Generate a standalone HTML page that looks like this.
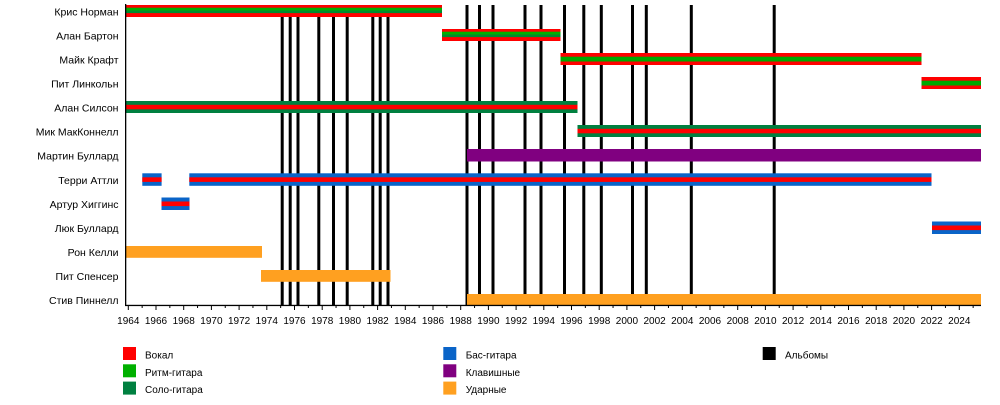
<!DOCTYPE html>
<html><head><meta charset="utf-8"><style>
html,body{margin:0;padding:0;background:#fff;}
svg{display:block;}
text{font-family:"Liberation Sans","DejaVu Sans",sans-serif;fill:#000;}
</style></head><body>
<svg width="1000" height="405" viewBox="0 0 1000 405" xmlns="http://www.w3.org/2000/svg">
<!-- album lines -->
<g fill="#000">
<rect x="280.7" y="5" width="3" height="300"/>
<rect x="288.7" y="5" width="3" height="300"/>
<rect x="296.5" y="5" width="3" height="300"/>
<rect x="317.3" y="5" width="3" height="300"/>
<rect x="332" y="5" width="3" height="300"/>
<rect x="345.7" y="5" width="3" height="300"/>
<rect x="371.3" y="5" width="3" height="300"/>
<rect x="378.7" y="5" width="3" height="300"/>
<rect x="386.5" y="5" width="3" height="300"/>
<rect x="465.5" y="5" width="3" height="300"/>
<rect x="478" y="5" width="3" height="300"/>
<rect x="491.5" y="5" width="3" height="300"/>
<rect x="523.5" y="5" width="3" height="300"/>
<rect x="539.5" y="5" width="3" height="300"/>
<rect x="563" y="5" width="3" height="300"/>
<rect x="582.3" y="5" width="3" height="300"/>
<rect x="599.8" y="5" width="3" height="300"/>
<rect x="631" y="5" width="3" height="300"/>
<rect x="644.8" y="5" width="3" height="300"/>
<rect x="689.8" y="5" width="3" height="300"/>
<rect x="772.7" y="5" width="3" height="300"/>
</g>
<!-- bars -->
<!-- Norman -->
<rect x="126" y="5" width="316" height="12" fill="#ff0000"/>
<rect x="126" y="7.7" width="316" height="2.8" fill="#00b000"/>
<rect x="126" y="10.5" width="316" height="2.6" fill="#008a30"/>
<!-- Barton -->
<rect x="442" y="29" width="118.5" height="12" fill="#ff0000"/>
<rect x="442" y="31.7" width="118.5" height="2.8" fill="#00b000"/>
<rect x="442" y="34.5" width="118.5" height="2.6" fill="#008a30"/>
<!-- Kraft -->
<rect x="560.5" y="53" width="361" height="12" fill="#ff0000"/>
<rect x="560.5" y="56.7" width="361" height="4.8" fill="#00a800"/>
<!-- Lincoln -->
<rect x="921.5" y="77" width="59.5" height="12" fill="#ff0000"/>
<rect x="921.5" y="80.7" width="59.5" height="4.8" fill="#00a800"/>
<!-- Silson -->
<rect x="126" y="101" width="451.5" height="12" fill="#008040"/>
<rect x="126" y="104.8" width="451.5" height="4.5" fill="#ff0000"/>
<!-- McConnell -->
<rect x="577.5" y="125" width="403.5" height="12" fill="#008040"/>
<rect x="577.5" y="128.8" width="403.5" height="4.5" fill="#ff0000"/>
<!-- M Bullard -->
<rect x="467" y="149" width="514" height="12.5" fill="#800080"/>
<!-- Uttley -->
<rect x="142.3" y="173.3" width="19.3" height="12.5" fill="#0a64c8"/>
<rect x="142.3" y="177.3" width="19.3" height="4.6" fill="#ff0000"/>
<rect x="189.3" y="173.3" width="742.2" height="12.5" fill="#0a64c8"/>
<rect x="189.3" y="177.3" width="742.2" height="4.6" fill="#ff0000"/>
<!-- Higgins -->
<rect x="161.5" y="197.5" width="28" height="12.5" fill="#0a64c8"/>
<rect x="161.5" y="201.5" width="28" height="4.6" fill="#ff0000"/>
<!-- Luke Bullard -->
<rect x="932" y="221.5" width="49" height="12.5" fill="#0a64c8"/>
<rect x="932" y="225.5" width="49" height="4.6" fill="#ff0000"/>
<!-- Kelly -->
<rect x="126" y="246" width="136" height="11.8" fill="#ffa020"/>
<!-- Spencer -->
<rect x="261" y="270" width="129.5" height="11.8" fill="#ffa020"/>
<!-- Pinnell -->
<rect x="467" y="294" width="514" height="11.5" fill="#ffa020"/>

<!-- axes -->
<rect x="125" y="4" width="1.3" height="302" fill="#000"/>
<rect x="125" y="304.8" width="856" height="1.3" fill="#000"/>
<g stroke="#000" stroke-width="1" id="ticks">
<path d="M128.3 305V310 M142.15 305V308 M156 305V310 M169.85 305V308 M183.7 305V310 M197.55 305V308 M211.4 305V310 M225.25 305V308 M239.1 305V310 M252.95 305V308 M266.8 305V310 M280.65 305V308 M294.5 305V310 M308.35 305V308 M322.2 305V310 M336.05 305V308 M349.9 305V310 M363.75 305V308 M377.6 305V310 M391.45 305V308 M405.3 305V310 M419.15 305V308 M433 305V310 M446.85 305V308 M460.7 305V310 M474.55 305V308 M488.4 305V310 M502.25 305V308 M516.1 305V310 M529.95 305V308 M543.8 305V310 M557.65 305V308 M571.5 305V310 M585.35 305V308 M599.2 305V310 M613.05 305V308 M626.9 305V310 M640.75 305V308 M654.6 305V310 M668.45 305V308 M682.3 305V310 M696.15 305V308 M710 305V310 M723.85 305V308 M737.7 305V310 M751.55 305V308 M765.4 305V310 M779.25 305V308 M793.1 305V310 M806.95 305V308 M820.8 305V310 M834.65 305V308 M848.5 305V310 M862.35 305V308 M876.2 305V310 M890.05 305V308 M903.9 305V310 M917.75 305V308 M931.6 305V310 M945.45 305V308 M959.3 305V310 M973.15 305V308"/>
</g>
<g font-size="10" text-anchor="middle">
<text x="128.3" y="324">1964</text>
<text x="156" y="324">1966</text>
<text x="183.7" y="324">1968</text>
<text x="211.4" y="324">1970</text>
<text x="239.1" y="324">1972</text>
<text x="266.8" y="324">1974</text>
<text x="294.5" y="324">1976</text>
<text x="322.2" y="324">1978</text>
<text x="349.9" y="324">1980</text>
<text x="377.6" y="324">1982</text>
<text x="405.3" y="324">1984</text>
<text x="433" y="324">1986</text>
<text x="460.7" y="324">1988</text>
<text x="488.4" y="324">1990</text>
<text x="516.1" y="324">1992</text>
<text x="543.8" y="324">1994</text>
<text x="571.5" y="324">1996</text>
<text x="599.2" y="324">1998</text>
<text x="626.9" y="324">2000</text>
<text x="654.6" y="324">2002</text>
<text x="682.3" y="324">2004</text>
<text x="710" y="324">2006</text>
<text x="737.7" y="324">2008</text>
<text x="765.4" y="324">2010</text>
<text x="793.1" y="324">2012</text>
<text x="820.8" y="324">2014</text>
<text x="848.5" y="324">2016</text>
<text x="876.2" y="324">2018</text>
<text x="903.9" y="324">2020</text>
<text x="931.6" y="324">2022</text>
<text x="959.3" y="324">2024</text>
</g>
<!-- names -->
<g font-size="10.5" text-anchor="end">
<text x="118.5" y="15.5">Крис Норман</text>
<text x="118.5" y="39.5">Алан Бартон</text>
<text x="118.5" y="63.5">Майк Крафт</text>
<text x="118.5" y="87.5">Пит Линкольн</text>
<text x="118.5" y="111.5">Алан Силсон</text>
<text x="118.5" y="135.5">Мик МакКоннелл</text>
<text x="118.5" y="159.5">Мартин Буллард</text>
<text x="118.5" y="184">Терри Аттли</text>
<text x="118.5" y="208">Артур Хиггинс</text>
<text x="118.5" y="232">Люк Буллард</text>
<text x="118.5" y="256">Рон Келли</text>
<text x="118.5" y="280">Пит Спенсер</text>
<text x="118.5" y="304">Стив Пиннелл</text>
</g>
<!-- legend -->
<rect x="123" y="347" width="13" height="13" fill="#ff0000"/>
<rect x="123" y="364.3" width="13" height="13" fill="#00b000"/>
<rect x="123" y="381.6" width="13" height="13" fill="#008040"/>
<rect x="443.3" y="347" width="13" height="13" fill="#0a64c8"/>
<rect x="443.3" y="364.3" width="13" height="13" fill="#800080"/>
<rect x="443.3" y="381.6" width="13" height="13" fill="#ffa020"/>
<rect x="762.7" y="347" width="13" height="13" fill="#000"/>
<g font-size="10">
<text x="145" y="358.5">Вокал</text>
<text x="145" y="375.8">Ритм-гитара</text>
<text x="145" y="393.1">Соло-гитара</text>
<text x="465.7" y="358.5">Бас-гитара</text>
<text x="465.7" y="375.8">Клавишные</text>
<text x="465.7" y="393.1">Ударные</text>
<text x="785" y="358.5">Альбомы</text>
</g>
</svg>
</body></html>
